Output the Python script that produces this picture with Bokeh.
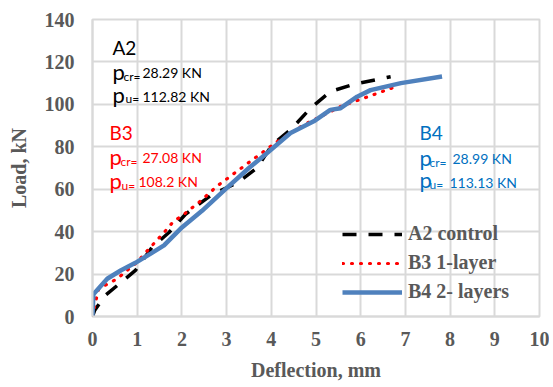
from bokeh.plotting import figure
from bokeh.models import Range1d, Legend, LegendItem, FixedTicker
from bokeh.core.properties import value
from bokeh.embed import file_html
from bokeh.resources import INLINE

# ---- data ----
a2_x = [0, 0.05, 0.29, 0.96, 1.33, 1.71, 2.08, 2.68, 3.24, 3.68, 4.02, 4.43, 4.88, 5.32, 5.85, 6.67]
a2_y = [0, 3, 10, 21.7, 32.6, 39.6, 48.2, 57.6, 63, 70, 81, 88, 98.2, 106, 109.5, 113]

b3_x = [0, 0.07, 0.14, 0.55, 1.0, 1.26, 1.6, 1.82, 2.0, 2.42, 2.79, 3.39, 4.1, 4.73, 5.03, 5.55, 6.07, 6.74]
b3_y = [0, 7, 13, 17.8, 25.6, 31.8, 39.6, 45, 47.4, 54.5, 61.5, 70.9, 82, 90.4, 93.5, 99, 102.9, 108]

b4_x = [0, 0.02, 0.33, 0.63, 0.96, 1.33, 1.6, 2.0, 2.45, 3.0, 3.5, 3.9, 4.43, 4.95, 5.32, 5.55, 5.92, 6.22, 6.9, 7.82]
b4_y = [0, 10.5, 17.8, 21.7, 25.3, 30, 33.5, 42, 49.8, 60.5, 70, 77, 86.5, 92, 97.4, 98.2, 103.6, 106.7, 110, 113.1]

series_names = ["A2 control", "B3 1-layer", "B4 2- layers"]
x_ticks = [0, 1, 2, 3, 4, 5, 6, 7, 8, 9, 10]
y_ticks = [0, 20, 40, 60, 80, 100, 120, 140]

specimens = ["A2", "B3", "B4"]
pcr_values = ["28.29 KN", "27.08 KN", "28.99 KN"]
pu_values = ["112.82 KN", "108.2 KN", "113.13 KN"]

# ---- figure ----
W, H = 549, 383
FL, FR, FT, FB = 92, 539, 19, 318  # frame edges in figure px
p = figure(width=W, height=H, output_backend="svg", toolbar_location=None,
           x_range=Range1d(0, 10), y_range=Range1d(0, 140),
           min_border_left=FL, min_border_right=W - FR,
           min_border_top=FT, min_border_bottom=H - FB)

grid_col = "#D9D9D9"
p.outline_line_color = grid_col
p.outline_line_width = 2
p.background_fill_color = "white"
p.border_fill_color = "white"

for ax in (p.xaxis[0], p.yaxis[0]):
    ax.axis_line_color = grid_col
    ax.axis_line_width = 2
    ax.major_tick_line_color = None
    ax.minor_tick_line_color = None
    ax.major_tick_out = 0
    ax.major_tick_in = 0
    ax.major_label_text_font = "Liberation Serif"
    ax.major_label_text_font_style = "bold"
    ax.major_label_text_font_size = "20px"
    ax.major_label_text_color = "#595959"
    ax.axis_label_text_font = "Liberation Serif"
    ax.axis_label_text_font_style = "bold"
    ax.axis_label_text_font_size = "20px"
    ax.axis_label_text_color = "#595959"

p.xaxis.ticker = FixedTicker(ticks=x_ticks)
p.yaxis.ticker = FixedTicker(ticks=y_ticks)
p.xaxis.axis_label = "Deflection, mm"
p.yaxis.axis_label = "Load, kN"
p.xaxis.major_label_standoff = 15
p.yaxis.major_label_standoff = 18
p.xaxis.axis_label_standoff = 10
p.yaxis.axis_label_standoff = 12

p.xgrid.grid_line_color = grid_col
p.ygrid.grid_line_color = grid_col
p.xgrid.grid_line_width = 2
p.ygrid.grid_line_width = 2

# ---- series ----
r_a2 = p.line(a2_x, a2_y, line_color="black", line_width=3.5, line_dash="14 12")
r_b3 = p.line(b3_x, b3_y, line_color="#FF0000", line_width=3.2, line_dash="1 8",
              line_cap="round")
r_b4 = p.line(b4_x, b4_y, line_color="#4F81BD", line_width=4.5, line_join="round")

legend = Legend(items=[LegendItem(label=series_names[0], renderers=[r_a2]),
                       LegendItem(label=series_names[1], renderers=[r_b3]),
                       LegendItem(label=series_names[2], renderers=[r_b4])],
                location=(250, 13), background_fill_alpha=0, border_line_alpha=0,
                padding=0, margin=0, spacing=6, glyph_width=60, glyph_height=20,
                label_height=20, label_standoff=6,
                label_text_font="Liberation Serif", label_text_font_style="bold",
                label_text_font_size="20px", label_text_color="#595959")
p.add_layout(legend, "center")

# ---- text annotations (positions in page px -> data) ----
def dx(px):
    return (px - 92) / 44.7

def dy(py):
    return (318 - py) / 2.136

font = value("Lato")
colors = ["black", "#FF0000", "#0070C0"]
layout = [
    (112, 123, 142, 125, 142, 47, 71, 76, 72, 94, 99, 96),
    (109, 120, 142, 121, 138, 133, 157, 162, 158, 181, 186, 182),
    (419, 429, 452, 429, 449, 133, 158, 163, 159, 180, 185, 183),
]
for i in range(3):
    xt, xcr, xvc, xu, xvu, bt, bpc, bcs, bcv, bpu, bus, buv = layout[i]
    c = colors[i]
    p.text(x=[dx(xt)], y=[dy(bt)], text=[specimens[i]], text_font=font,
           text_font_size="19px", text_color=c, text_baseline="alphabetic")
    p.text(x=[dx(xt), dx(xt)], y=[dy(bpc), dy(bpu)], text=["p", "p"],
           text_font=font, text_font_size="22px", text_color=c,
           text_baseline="alphabetic")
    p.text(x=[dx(xcr), dx(xu)], y=[dy(bcs), dy(bus)], text=["cr=", "u="],
           text_font=font, text_font_size="12px", text_color=c,
           text_baseline="alphabetic")
    p.text(x=[dx(xvc), dx(xvu)], y=[dy(bcv), dy(buv)], text=[pcr_values[i], pu_values[i]],
           text_font=font, text_font_size="14px", text_color=c,
           text_baseline="alphabetic")

open("out.html", "w").write(file_html(p, INLINE))
